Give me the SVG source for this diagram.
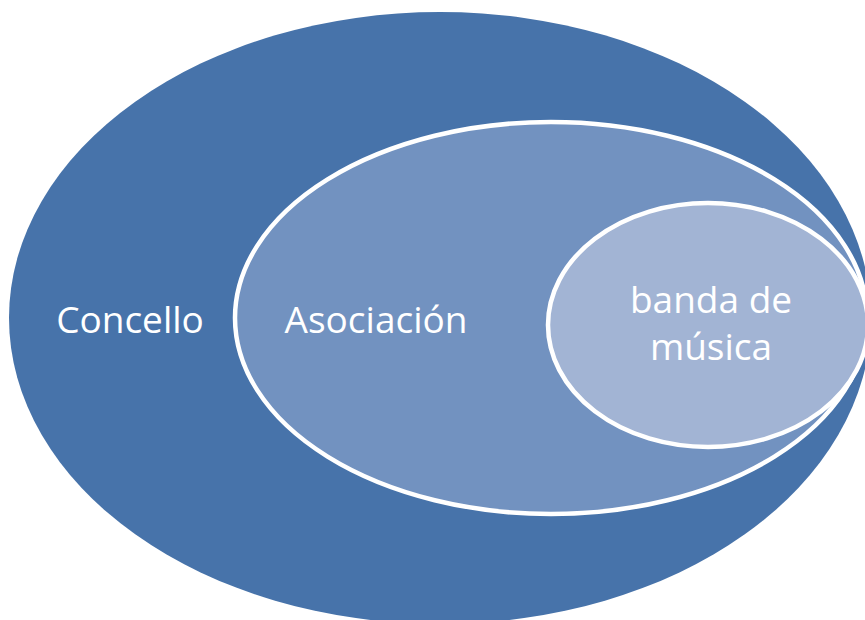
<svg xmlns="http://www.w3.org/2000/svg" width="865" height="620" viewBox="0 0 865 620">
<style>
.shape{stroke:#ffffff;stroke-width:4.5}
.lbl{font-family:"Open Sans","Noto Sans","Liberation Sans",sans-serif;font-size:37px;fill:#ffffff;text-anchor:middle}
</style>
<rect width="865" height="620" fill="#ffffff"/>
<g id="concello">
<ellipse cx="440" cy="318" rx="431" ry="306" fill="#4773AA"/>
<text class="lbl" x="130" y="333">Concello</text>
</g>
<g id="asociacion">
<ellipse class="shape" cx="551" cy="318" rx="316" ry="196" fill="#7292C0"/>
<text class="lbl" x="376" y="333">Asociación</text>
</g>
<g id="banda">
<ellipse class="shape" cx="708" cy="325" rx="160" ry="122" fill="#A2B4D4"/>
<text class="lbl" x="711" y="313">banda de</text>
<text class="lbl" x="711" y="360">música</text>
</g>
<g id="connectors"/>
</svg>
